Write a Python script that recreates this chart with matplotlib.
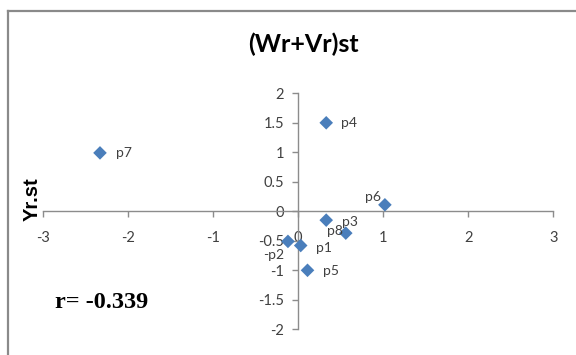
import matplotlib
matplotlib.use("Agg")
import matplotlib.pyplot as plt
from matplotlib.lines import Line2D

# Data
labels = ["p1", "p2", "p3", "p4", "p5", "p6", "p7", "p8"]
x_vals = [0.03, -0.12, 0.56, 0.33, 0.11, 1.02, -2.33, 0.33]
y_vals = [-0.58, -0.51, -0.37, 1.50, -1.00, 0.11, 0.99, -0.15]
label_text = ["p1", "-p2", "p3", "p4", "p5", "p6", "p7", "p8"]
x_ticks = [-3, -2, -1, 0, 1, 2, 3]
y_ticks = [-2, -1.5, -1, -0.5, 0, 0.5, 1, 1.5, 2]
title = "(Wr+Vr)st"
ylabel = "Yr.st"
r_text = "r= -0.339"

# label offsets in pixels (dx, dy), alignment
offsets = {
    "p1": (15, -2, "left"),
    "p2": (-25, -14, "left"),
    "p3": (-4, 11, "left"),
    "p4": (15, 0, "left"),
    "p5": (15, -1, "left"),
    "p6": (-4, 8, "right"),
    "p7": (16, 0, "left"),
    "p8": (1, -11, "left"),
}

DPI = 100
fig = plt.figure(figsize=(5.76, 3.55), dpi=DPI)
W, H = 576, 355
ax = fig.add_axes([43 / W, 1 - 329.3 / H, (553.3 - 43) / W, (329.3 - 93.3) / H])

blue = "#4A7EBB"
axis_gray = "#8C8C8C"
text_gray = "#404040"
font = "Lato"

ax.scatter(x_vals, y_vals, marker="D", s=48, color=blue, edgecolors="none", zorder=3)

px2pt = 72 / DPI
for lab, txt, xv, yv in zip(labels, label_text, x_vals, y_vals):
    dx, dy, ha = offsets[lab]
    ax.annotate(txt, (xv, yv), xytext=(dx * px2pt, dy * px2pt), textcoords="offset points",
                ha=ha, va="center", fontsize=10, color=text_gray, family=font)

ax.set_xlim(-3, 3)
ax.set_ylim(-2, 2)
ax.set_xticks(x_ticks)
ax.set_yticks(y_ticks)
ax.set_xticklabels([f"{v:g}" for v in x_ticks])
ax.set_yticklabels([f"{v:g}" for v in y_ticks])

for s in ["top", "right"]:
    ax.spines[s].set_visible(False)
ax.spines["left"].set_position(("data", 0))
ax.spines["bottom"].set_position(("data", 0))
for s in ["left", "bottom"]:
    ax.spines[s].set_color(axis_gray)
    ax.spines[s].set_linewidth(1.0)
ax.tick_params(axis="x", direction="out", length=4, width=1, color=axis_gray, pad=10,
               labelsize=10.5, labelcolor=text_gray)
ax.tick_params(axis="y", direction="out", length=4, width=1, color=axis_gray, pad=6,
               labelsize=10.5, labelcolor=text_gray)
for t in ax.get_xticklabels() + ax.get_yticklabels():
    t.set_family(font)
ax.patch.set_alpha(0)

fig.text(303 / W, 1 - 44 / H, title, ha="center", va="center", fontsize=18,
         fontweight="bold", family=font, color="black")
fig.text(32 / W, 1 - 199 / H, ylabel, ha="center", va="center", rotation=90,
         fontsize=14.5, fontweight="bold", family="Liberation Sans", color="black")
fig.text(55 / W, 1 - 302 / H, r_text, ha="left", va="center", fontsize=17.5,
         fontweight="bold", family="Liberation Serif", color="black")

# chart border (top and left)
fig.add_artist(Line2D([7.5 / W, 1], [1 - 11 / H, 1 - 11 / H], transform=fig.transFigure,
                      color="#8A8A8A", lw=1.6))
fig.add_artist(Line2D([7.5 / W, 7.5 / W], [0, 1 - 11 / H], transform=fig.transFigure,
                      color="#8A8A8A", lw=1.6))

fig.savefig("out.png", dpi=DPI)
